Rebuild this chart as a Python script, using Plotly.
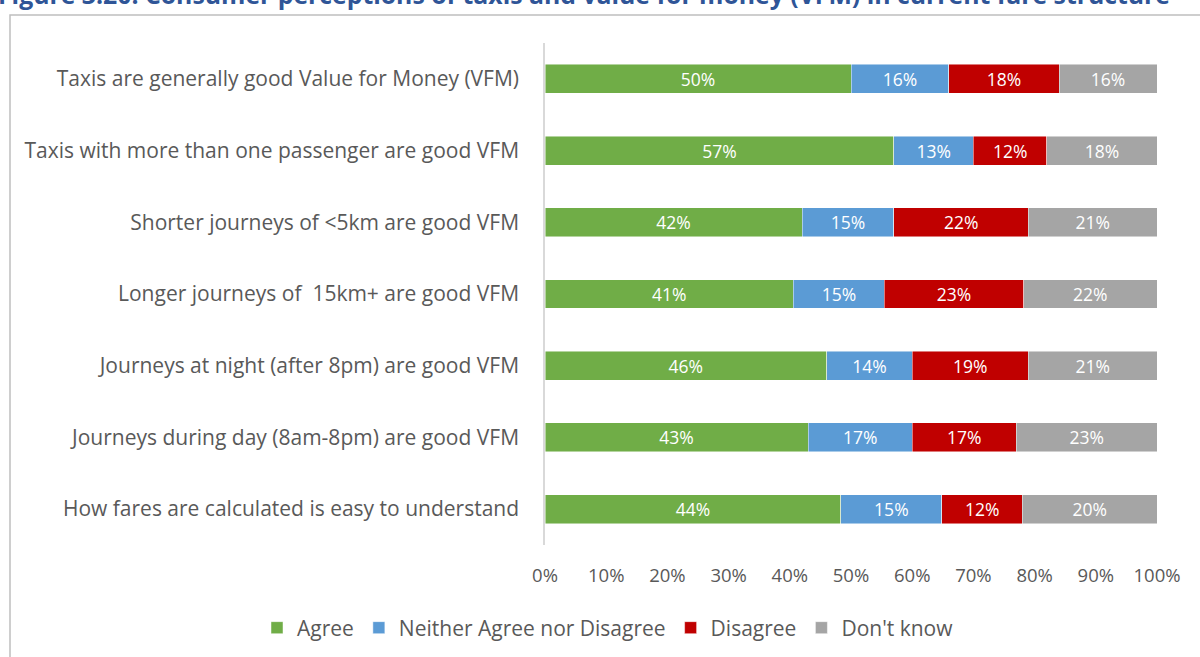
import plotly.graph_objects as go

categories = [
    "Taxis are generally good Value for Money (VFM)",
    "Taxis with more than one passenger are good VFM",
    "Shorter journeys of <5km are good VFM",
    "Longer journeys of  15km+ are good VFM",
    "Journeys at night (after 8pm) are good VFM",
    "Journeys during day (8am-8pm) are good VFM",
    "How fares are calculated is easy to understand",
]
agree = [50, 57, 42, 41, 46, 43, 44]
neither = [16, 13, 15, 15, 14, 17, 15]
disagree = [18, 12, 22, 23, 19, 17, 12]
dont_know = [16, 18, 21, 22, 21, 23, 20]
x_ticks = [0, 10, 20, 30, 40, 50, 60, 70, 80, 90, 100]
x_tick_labels = [f"{v}%" for v in x_ticks]

series = [
    ("Agree", agree, "#70AD47"),
    ("Neither Agree nor Disagree", neither, "#5B9BD5"),
    ("Disagree", disagree, "#C00000"),
    ("Don't know", dont_know, "#A5A5A5"),
]

FONT = "Open Sans"
fig = go.Figure()
for name, vals, col in series:
    fig.add_trace(go.Bar(
        y=categories, x=vals, name=name, orientation="h",
        marker=dict(color=col, line=dict(color="rgba(255,255,255,0.6)", width=0.8)),
        text=[f"{v}%" for v in vals], textposition="inside",
        insidetextanchor="middle", textangle=0,
        textfont=dict(color="white", size=17.5, family=FONT),
        constraintext="none", hoverinfo="skip",
    ))

W, H = 1200, 657
L, R, T, B = 545, 43, 43, 112
pw, ph = W - L - R, H - T - B

def px(x):
    return (x - L) / pw

def py(y):
    return (H - B - y) / ph

fig.update_layout(
    width=W, height=H,
    barmode="stack", barnorm="percent", bargap=0.596,
    margin=dict(l=L, r=R, t=T, b=B, autoexpand=False),
    paper_bgcolor="white", plot_bgcolor="white",
    font=dict(family=FONT, color="#595959", size=19),
    showlegend=True,
    legend=dict(orientation="h", xref="paper", yref="paper",
                x=px(257), xanchor="left", y=py(628), yanchor="middle",
                font=dict(size=21, color="#595959", family=FONT), itemwidth=30,
                traceorder="normal"),
    xaxis=dict(range=[0, 100], tickvals=x_ticks, ticktext=x_tick_labels,
               showgrid=False, zeroline=False, showline=False, ticks="",
               ticklabelstandoff=17,
               tickfont=dict(size=18.5, color="#595959")),
    yaxis=dict(autorange="reversed", showgrid=False, zeroline=False,
               showline=True, linecolor="#D9D9D9", linewidth=1.5, ticks="",
               ticklabelstandoff=20, tickfont=dict(size=21, color="#595959")),
    shapes=[dict(type="rect", xref="paper", yref="paper",
                 x0=px(10), x1=px(1215), y0=py(700), y1=py(15),
                 line=dict(color="#BFBFBF", width=1.5), fillcolor="rgba(0,0,0,0)", layer="below")],
    annotations=[dict(text="<b>Figure 3.20: Consumer perceptions of taxis and value for money (VFM) in current fare structure</b>",
                      xref="paper", yref="paper", x=px(-4), xanchor="left", y=py(13.5), yanchor="bottom",
                      showarrow=False, font=dict(size=24.8, color="#2F5597", family=FONT))],
)
fig.write_html("out.html", config={"displayModeBar": False},
               post_script="document.body.style.margin='0';document.body.style.overflow='hidden';")
